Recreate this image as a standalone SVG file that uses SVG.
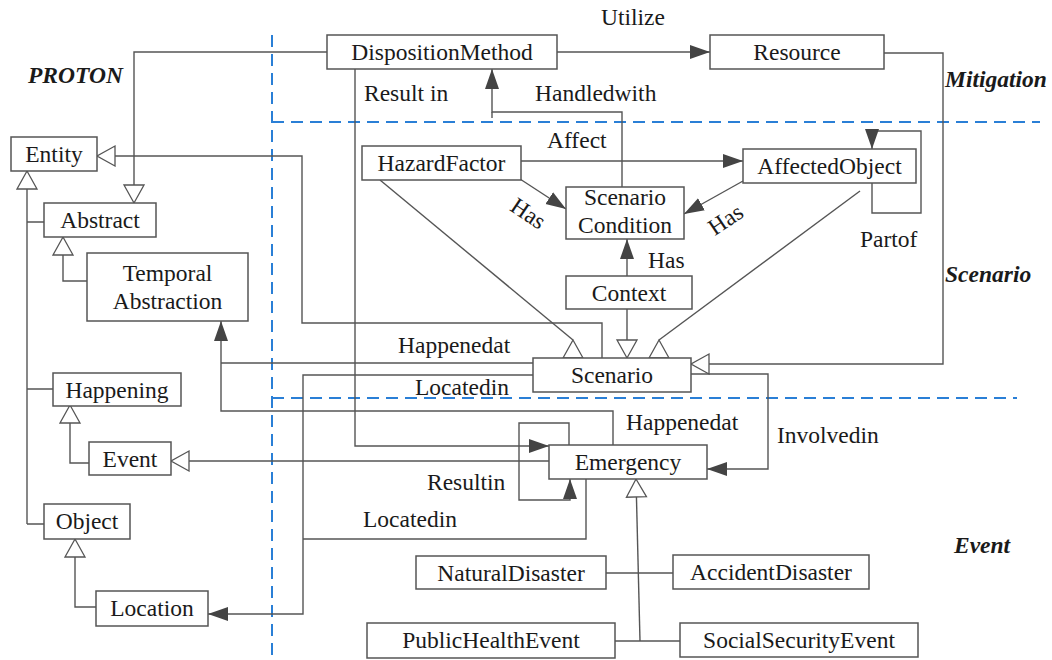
<svg xmlns="http://www.w3.org/2000/svg" width="1052" height="660" viewBox="0 0 1052 660">
<defs>
<style>
.n rect{fill:#fff;stroke:#555;stroke-width:1.5}
text{font-family:"Liberation Serif","Times New Roman",serif;font-size:23.5px;fill:#1a1a1a}
.c{text-anchor:middle}
.sec{font-weight:bold;font-style:italic}
.ln path,.ln line{fill:none;stroke:#555;stroke-width:1.4}
.tri{fill:#fff;stroke:#555;stroke-width:1.3}
.dash{fill:none;stroke:#2a7fd6;stroke-width:2;stroke-dasharray:12 7}
</style>
<marker id="fa" markerUnits="userSpaceOnUse" markerWidth="22" markerHeight="16" refX="20" refY="7" orient="auto"><path d="M0,0 L20,7 L0,14 z" fill="#444"/></marker>
<marker id="ha" markerUnits="userSpaceOnUse" markerWidth="22" markerHeight="24" refX="19" refY="11" orient="auto"><path d="M1,1 L19,11 L1,21 z" fill="#fff" stroke="#555" stroke-width="1.3"/></marker>
</defs>
<rect width="1052" height="660" fill="#fff"/>

<g id="regions">
<path class="dash" d="M272,35 V657"/>
<path class="dash" d="M272,122 H1040"/>
<path class="dash" d="M272,398 H1017"/>
<text class="sec" x="28" y="83">PROTON</text>
<text class="sec" x="945" y="87">Mitigation</text>
<text class="sec" x="945" y="282">Scenario</text>
<text class="sec" x="954" y="553">Event</text>
</g>

<g id="connectors" class="ln">
<path d="M327,52 H134 V203" marker-end="url(#ha)"/>
<path d="M557,52 H710" marker-end="url(#fa)"/>
<path d="M884,53 H943 V364 H691" marker-end="url(#ha)"/>
<path d="M602,358 V323 H302 V156 H97" marker-end="url(#ha)"/>
<path d="M380,180 L573,340"/>
<polygon class="tri" points="573,340 563,358 583,358"/>
<path d="M860,191 L659,340"/>
<polygon class="tri" points="659,340 649,358 669,358"/>
<path d="M627,309 V358" marker-end="url(#ha)"/>
<path d="M520,179 L566,209" marker-end="url(#fa)"/>
<path d="M743,181 L684,214" marker-end="url(#fa)"/>
<path d="M521,161 H743" marker-end="url(#fa)"/>
<path d="M622,187 V112 H492 V69" marker-end="url(#fa)"/>
<path d="M492,112 V118"/>
<path d="M627,276 V239" marker-end="url(#fa)"/>
<path d="M872,183 V213 H921 V131 H872 V149" marker-end="url(#fa)"/>
<path d="M355,69 V446 H549" marker-end="url(#fa)"/>
<path d="M549,461 H171" marker-end="url(#ha)"/>
<path d="M569,445 V423 H519 V500 H570 V479" marker-end="url(#fa)"/>
<path d="M691,374 H768 V469 H707" marker-end="url(#fa)"/>
<path d="M533,363 H221"/>
<path d="M613,445 V411 H221 V321" marker-end="url(#fa)"/>
<path d="M533,375 H303 V614 H208" marker-end="url(#fa)"/>
<path d="M586,479 V539 H303"/>
<path d="M606,573 H673"/>
<path d="M615,641 H680"/>
<path d="M640,641 L636,479" marker-end="url(#ha)"/>
<path d="M27,524 V171" marker-end="url(#ha)"/>
<path d="M27,222 H44 M27,389 H53 M27,524 H44"/>
<path d="M87,281 H63 V237" marker-end="url(#ha)"/>
<path d="M89,463 H70 V405" marker-end="url(#ha)"/>
<path d="M96,607 H75 V539" marker-end="url(#ha)"/>
</g>

<g id="edge-labels">
<text class="c" x="633" y="25">Utilize</text>
<text x="364" y="101">Result in</text>
<text x="535" y="101">Handledwith</text>
<text x="547" y="148">Affect</text>
<text class="c" transform="translate(524,220) rotate(34)">Has</text>
<text class="c" transform="translate(730,226) rotate(-34)">Has</text>
<text x="648" y="268">Has</text>
<text x="860" y="247">Partof</text>
<text x="398" y="353">Happenedat</text>
<text x="415" y="395">Locatedin</text>
<text x="626" y="430">Happenedat</text>
<text x="777" y="443">Involvedin</text>
<text x="427" y="490">Resultin</text>
<text x="363" y="527">Locatedin</text>
</g>

<g id="DispositionMethod" class="n"><rect x="327" y="35" width="230" height="34"/><text class="c" x="442" y="60">DispositionMethod</text></g>
<g id="Resource" class="n"><rect x="710" y="35" width="174" height="34"/><text class="c" x="797" y="60">Resource</text></g>
<g id="Entity" class="n"><rect x="11" y="137" width="86" height="34"/><text class="c" x="54" y="162">Entity</text></g>
<g id="Abstract" class="n"><rect x="44" y="203" width="112" height="34"/><text class="c" x="100" y="228">Abstract</text></g>
<g id="TemporalAbstraction" class="n"><rect x="87" y="253" width="161" height="68"/><text class="c" x="167.5" y="281">Temporal</text><text class="c" x="167.5" y="309">Abstraction</text></g>
<g id="Happening" class="n"><rect x="53" y="373" width="128" height="33"/><text class="c" x="117" y="398">Happening</text></g>
<g id="Event" class="n"><rect x="89" y="442" width="82" height="33"/><text class="c" x="130" y="467">Event</text></g>
<g id="Object" class="n"><rect x="44" y="504" width="86" height="35"/><text class="c" x="87" y="529">Object</text></g>
<g id="Location" class="n"><rect x="96" y="591" width="112" height="35"/><text class="c" x="152" y="616">Location</text></g>
<g id="HazardFactor" class="n"><rect x="362" y="146" width="159" height="34"/><text class="c" x="441.5" y="171">HazardFactor</text></g>
<g id="ScenarioCondition" class="n"><rect x="566" y="187" width="118" height="52"/><text class="c" x="625" y="205">Scenario</text><text class="c" x="625" y="233">Condition</text></g>
<g id="AffectedObject" class="n"><rect x="743" y="149" width="173" height="34"/><text class="c" x="829.5" y="174">AffectedObject</text></g>
<g id="Context" class="n"><rect x="566" y="276" width="126" height="33"/><text class="c" x="629" y="301">Context</text></g>
<g id="Scenario" class="n"><rect x="533" y="358" width="158" height="34"/><text class="c" x="612" y="383">Scenario</text></g>
<g id="Emergency" class="n"><rect x="549" y="445" width="158" height="34"/><text class="c" x="628" y="470">Emergency</text></g>
<g id="NaturalDisaster" class="n"><rect x="416" y="556" width="190" height="33"/><text class="c" x="511" y="581">NaturalDisaster</text></g>
<g id="AccidentDisaster" class="n"><rect x="673" y="555" width="196" height="34"/><text class="c" x="771" y="580">AccidentDisaster</text></g>
<g id="PublicHealthEvent" class="n"><rect x="367" y="623" width="248" height="35"/><text class="c" x="491" y="648">PublicHealthEvent</text></g>
<g id="SocialSecurityEvent" class="n"><rect x="680" y="623" width="238" height="34"/><text class="c" x="799" y="648">SocialSecurityEvent</text></g>
</svg>
